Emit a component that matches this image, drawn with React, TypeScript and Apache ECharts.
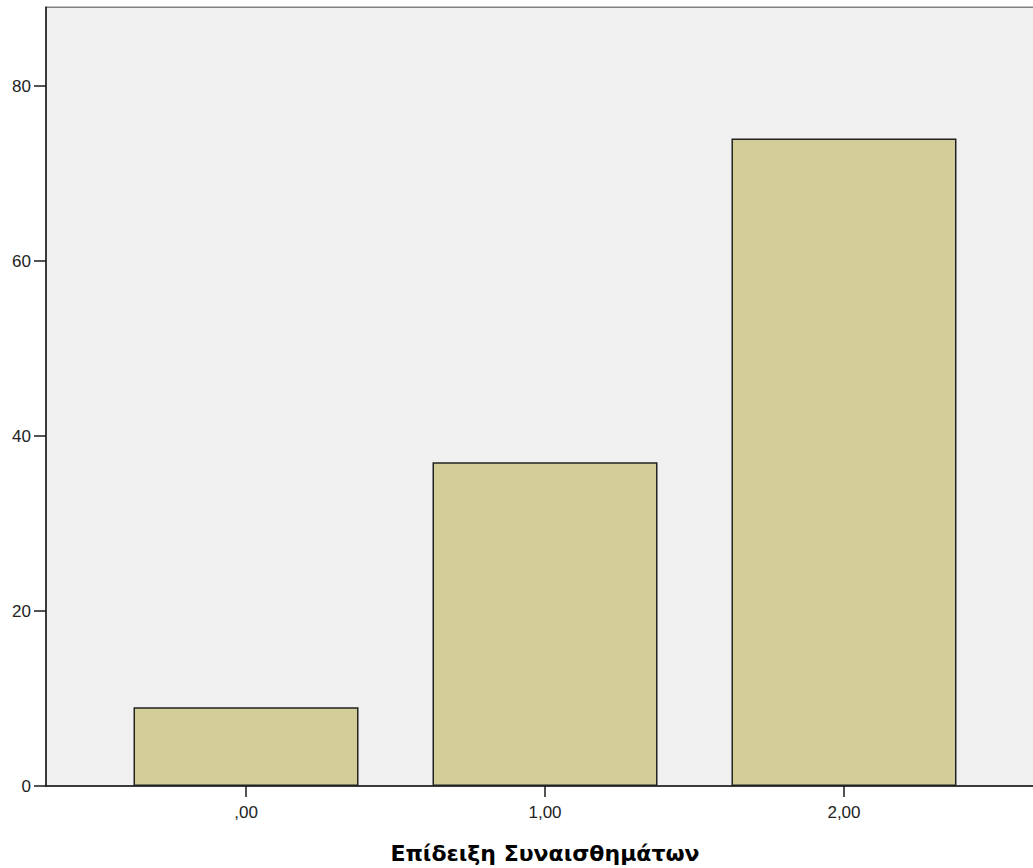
import React, { useEffect, useRef } from "react";
import * as echarts from "echarts";

const categories = [0, 1, 2];
const categoryLabels = [",00", "1,00", "2,00"];
const counts = [9, 37, 74];
const yTicks = [0, 20, 40, 60, 80];
const xTitle = "Επίδειξη Συναισθημάτων";

export default function App() {
  const ref = useRef<HTMLDivElement>(null);
  useEffect(() => {
    if (!ref.current) return;
    const chart = echarts.init(ref.current, null, { renderer: "svg" });
    const labelFor = (v: number) => {
      const i = categories.indexOf(v);
      return i >= 0 ? categoryLabels[i] : "";
    };
    chart.setOption({
      animation: false,
      backgroundColor: "#ffffff",
      grid: {
        left: 46,
        top: 7.25,
        right: -11,
        bottom: 82,
        outerBoundsMode: "none",
        containLabel: false,
        show: true,
        backgroundColor: "#f0f0f0",
        borderColor: "#808080",
        borderWidth: 1.5,
      },
      xAxis: {
        type: "value",
        min: -0.669,
        max: 2.669,
        splitLine: { show: false },
        axisLine: { show: true, onZero: false, lineStyle: { color: "#1a1a1a", width: 1.5 } },
        axisTick: {
          show: true,
          length: 11,
          lineStyle: { color: "#1a1a1a", width: 1.5 },
          customValues: categories,
        },
        axisLabel: {
          customValues: categories,
          formatter: (v: number) => labelFor(v),
          margin: 18,
          fontSize: 17,
          color: "#222",
          fontFamily: "Liberation Sans, Arial, sans-serif",
        },
        name: xTitle,
        nameLocation: "middle",
        nameGap: 56,
        nameTextStyle: {
          fontSize: 22,
          fontWeight: "bold",
          color: "#000",
          fontFamily: "DejaVu Sans, sans-serif",
        },
      },
      yAxis: {
        type: "value",
        min: 0,
        max: 89,
        interval: 20,
        splitLine: { show: false },
        axisLine: { show: true, onZero: false, lineStyle: { color: "#1a1a1a", width: 1.5 } },
        axisTick: {
          show: true,
          length: 12,
          lineStyle: { color: "#1a1a1a", width: 1.5 },
          customValues: yTicks,
        },
        axisLabel: {
          customValues: yTicks,
          margin: 15,
          fontSize: 17,
          color: "#222",
          fontFamily: "Liberation Sans, Arial, sans-serif",
        },
      },
      series: [
        {
          type: "bar",
          barWidth: 225,
          data: categories.map((c, i) => [c, counts[i]]),
          itemStyle: {
            color: "#d3ce97",
            borderColor: "#222222",
            borderWidth: 1.5,
          },
        },
      ],
    });
    return () => chart.dispose();
  }, []);
  return (
    <div
      ref={ref}
      style={{ position: "absolute", left: 0, top: 0, width: 1033, height: 868 }}
    />
  );
}
